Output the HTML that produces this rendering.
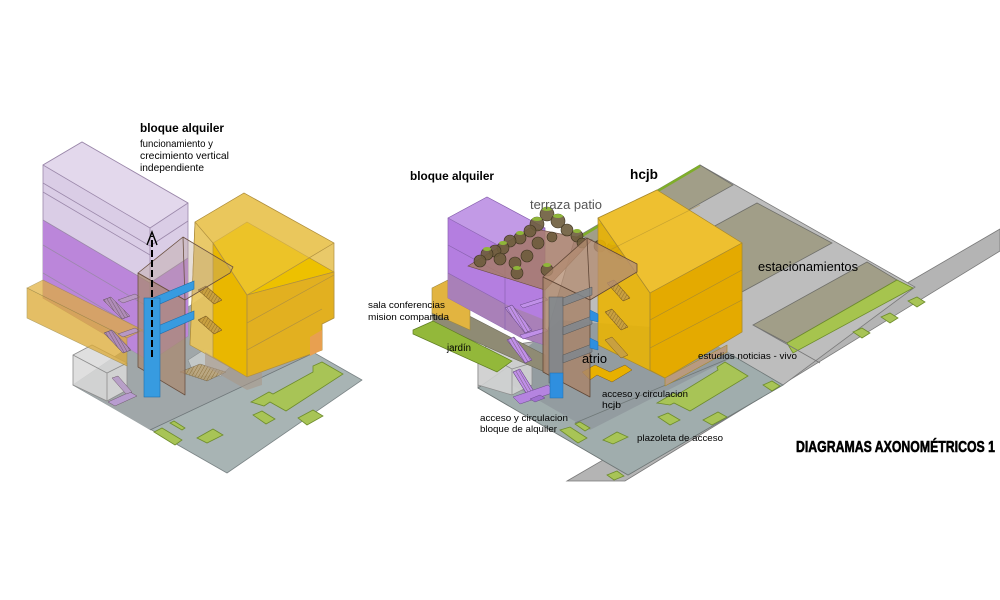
<!DOCTYPE html>
<html><head><meta charset="utf-8">
<style>
html,body{margin:0;padding:0;background:#fff;width:1000px;height:600px;overflow:hidden}
svg{display:block}
text{font-family:"Liberation Sans",Arial,sans-serif;fill:#000}
</style></head>
<body>
<svg width="1000" height="600" viewBox="0 0 1000 600" xmlns="http://www.w3.org/2000/svg">
<defs>
<pattern id="st" width="3" height="3" patternUnits="userSpaceOnUse" patternTransform="rotate(-30)">
<rect width="3" height="3" fill="none"/><path d="M0,0 L0,3" stroke="#5a4a50" stroke-width="0.7"/></pattern>
<pattern id="sty" width="3" height="3" patternUnits="userSpaceOnUse" patternTransform="rotate(30)">
<path d="M0,0 L0,3" stroke="#7a5a20" stroke-width="0.7"/></pattern>
</defs>
<rect width="1000" height="600" fill="#fff"/>

<!-- ================= LEFT DIAGRAM ================= -->
<g stroke="#7b8486" stroke-width="0.8" stroke-linejoin="round">
  <polygon points="73,385 209,293 362,380 227,473" fill="#a8b4b4"/>
  <polygon points="73,385 209,293 314,353 150,430" fill="#a0a7a9" stroke="none"/>
  <line x1="150" y1="430" x2="322" y2="349" stroke="#6f777a"/>
</g>
<g fill="#a8c456" stroke="#6e8c2c" stroke-width="0.8">
  <polygon points="251,402 269,392 273,394 313,372 313,366 322,362 343,374 286,411 270,402 264,406"/>
  <polygon points="253,415 262,411 275,419 266,424"/>
  <polygon points="298,418 313,410 323,416 307,425"/>
  <polygon points="197,438 213,429 223,435 207,443"/>
  <polygon points="154,432 162,428 182,440 175,445"/>
  <polygon points="170,423 174,421 185,428 182,430"/>
</g>
<!-- light hex area in atrio -->
<polygon points="188,360 205,349 226,351 235,362 221,376 195,376" fill="#c3c8c8" stroke="#8a8f90" stroke-width="0.6"/>
<polygon points="180,372 200,364 226,372 207,381" fill="#b8a070" opacity="0.8" stroke="#6a5a40" stroke-width="0.5"/>
<polygon points="180,372 200,364 226,372 207,381" fill="url(#sty)"/>
<!-- gray box left -->
<g stroke="#8d8d8d" stroke-width="0.8" fill="#d9d9d9" fill-opacity="0.85">
  <polygon points="73,355 92,345 127,363 127,390 107,401 73,385"/>
  <polyline points="73,355 107,373 127,363" fill="none"/>
  <line x1="107" y1="373" x2="107" y2="401"/>
</g>
<!-- purple block -->
<g stroke="#9b88aa" stroke-width="0.8" stroke-linejoin="round">
  <polygon points="43,165 82,142 188,203 188,336 150,361 43,298" fill="#dacde6"/>
  <polygon points="43,165 82,142 188,203 150,228" fill="#e3d8ec"/>
  <polygon points="43,220 150,283 188,258 188,336 150,361 43,298" fill="#bb86da" stroke="none"/>
  <line x1="150" y1="228" x2="150" y2="361"/>
  <line x1="43" y1="183" x2="150" y2="246"/>
  <line x1="43" y1="192" x2="150" y2="255"/>
  <line x1="43" y1="220" x2="150" y2="283"/>
  <line x1="43" y1="245" x2="150" y2="308"/>
  <line x1="43" y1="273" x2="150" y2="336"/>
  <line x1="150" y1="246" x2="188" y2="221"/>
  <line x1="150" y1="283" x2="188" y2="258"/>
  <line x1="150" y1="308" x2="188" y2="283"/>
</g>
<!-- left yellow slab -->
<polygon points="27,288 43,280 143,330 127,338" fill="#e0ae38" opacity="0.7" stroke="#a08a40" stroke-width="0.6"/>
<polygon points="27,288 127,338 127,366 27,318" fill="#ddac3a" opacity="0.78" stroke="#a08a40" stroke-width="0.6"/>
<!-- stairs in purple -->
<g stroke="#6e5a6a" stroke-width="0.5">
  <polygon points="103,300 111,297 130,316 122,319" fill="#b08cb8"/>
  <polygon points="103,300 111,297 130,316 122,319" fill="url(#st)"/>
  <polygon points="104,333 112,330 131,350 123,353" fill="#b08cb8"/>
  <polygon points="104,333 112,330 131,350 123,353" fill="url(#st)"/>
  <polygon points="118,300 135,294 140,297 123,303" fill="#b898c4"/>
  <polygon points="118,334 135,328 140,331 123,337" fill="#b898c4"/>
  <polygon points="108,402 130,392 137,396 115,406" fill="#b89cd0"/>
  <polygon points="112,378 118,376 132,392 126,394" fill="#b8a0c8"/>
</g>
<!-- left yellow building -->
<g stroke="#b09040" stroke-width="0.7" stroke-linejoin="round">
  <polygon points="195,222 244,193 334,243 334,318 322,324 322,350 247,377 190,345" fill="#e7c45c" fill-opacity="0.92"/>
  <polygon points="213,243 247,222 334,272 247,295" fill="#edc100"/>
  <polygon points="213,243 247,295 247,377 213,357" fill="#e9b700"/>
  <polygon points="247,295 334,272 334,318 322,324 322,350 247,377" fill="#e2b020"/>
  <polygon points="195,222 244,193 334,243 247,295 213,243" fill="#ebc650" fill-opacity="0.5"/>
  <line x1="247" y1="295" x2="247" y2="377"/>
  <line x1="247" y1="323" x2="334" y2="275"/>
  <line x1="247" y1="350" x2="322" y2="309"/>
  <line x1="195" y1="222" x2="190" y2="345"/>
  <polygon points="310,337 322,330 322,350 310,356" fill="#e8a050" stroke="none"/>
</g>
<polygon points="205,352 247,377 262,372 262,385 247,390 205,366" fill="#a89888" opacity="0.6"/>
<!-- yellow stairs left -->
<g stroke="#7a5a20" stroke-width="0.5">
  <polygon points="198,290 206,286 222,300 214,304" fill="#c8a040"/>
  <polygon points="198,290 206,286 222,300 214,304" fill="url(#sty)"/>
  <polygon points="198,320 206,316 222,330 214,334" fill="#c8a040"/>
  <polygon points="198,320 206,316 222,330 214,334" fill="url(#sty)"/>
</g>
<!-- atrio wall left -->
<g stroke="#6a5040" stroke-width="0.8" stroke-linejoin="round">
  <polygon points="138,273 185,300 185,395 138,367" fill="#a98a72" fill-opacity="0.75"/>
  <polygon points="138,273 183,237 233,267 230,273 185,300" fill="#b8a090" fill-opacity="0.35"/>
  <line x1="183" y1="237" x2="185" y2="300"/>
</g>
<!-- blue -->
<g fill="#379be0" stroke="#1f6fae" stroke-width="0.6">
  <polygon points="153,298 194,281 194,289 153,307"/>
  <polygon points="153,328 194,311 194,319 153,337"/>
  <rect x="144" y="298" width="16" height="99"/>
</g>
<!-- dashed arrow -->
<line x1="152" y1="357" x2="152" y2="236" stroke="#000" stroke-width="2" stroke-dasharray="7,3"/>
<polyline points="147,245 152,232 157,245" fill="none" stroke="#000" stroke-width="1.4"/>

<!-- ================= RIGHT DIAGRAM ================= -->
<polygon points="567,481 1000,229 1000,251 625,481" fill="#b4b4b4" stroke="#7a7a7a" stroke-width="0.8"/>
<polygon points="478,388 478,350 545,340 575,238 700,165 915,287 783,385 628,475" fill="#bdbdbd" stroke="#7a7a7a" stroke-width="0.8"/>
<g fill="#a19e88" stroke="#6f6f6a" stroke-width="0.8">
  <polygon points="582,236 700,165 733,185 615,251"/>
  <polygon points="665,253 757,203 832,243 740,293"/>
  <polygon points="753,325 867,262 897,280 787,343"/>
</g>
<line x1="575" y1="240" x2="700" y2="166" stroke="#7fae2a" stroke-width="2.5"/>
<polygon points="897,280 913,288 793,353 787,343" fill="#a6c44e" stroke="#6e8c2c" stroke-width="0.8"/>
<line x1="753" y1="325" x2="820" y2="363" stroke="#777" stroke-width="0.8"/>
<!-- plaza -->
<polygon points="478,388 628,475 783,385 735,357 660,330 560,330" fill="#a0adad" stroke="#6f7878" stroke-width="0.8"/>
<polygon points="512,385 590,430 735,356 690,330 560,320 512,360" fill="#939ca0"/>
<line x1="575" y1="423" x2="735" y2="356" stroke="#6f7878" stroke-width="0.8"/>
<g fill="#a8c456" stroke="#6e8c2c" stroke-width="0.8">
  <polygon points="657,403 674,393 677,395 718,370 717,367 725,362 748,376 690,411 674,403 670,405"/>
  <polygon points="658,417 668,413 680,420 670,425"/>
  <polygon points="703,420 718,412 727,417 712,425"/>
  <polygon points="603,440 617,432 628,437 613,444"/>
  <polygon points="560,430 570,427 587,438 578,443"/>
  <polygon points="575,424 580,422 590,428 585,431"/>
  <polygon points="763,385 772,381 780,386 772,391"/>
  <polygon points="607,475 617,471 624,476 614,480"/>
  <polygon points="853,332 862,328 870,333 862,338"/>
  <polygon points="881,317 890,313 898,318 890,323"/>
  <polygon points="908,301 917,297 925,302 917,307"/>
</g>
<!-- box right -->
<g stroke="#8d8d8d" stroke-width="0.8" fill="#d6d6d6" fill-opacity="0.85">
  <polygon points="478,350 490,345 532,363 532,385 512,395 478,385"/>
  <polyline points="478,350 512,369 532,363" fill="none"/>
  <line x1="512" y1="369" x2="512" y2="395"/>
</g>
<!-- olive and yellow slab and jardin -->
<polygon points="432,313 448,305 545,355 545,372 510,357 433,323" fill="#8f8b74" stroke="#6a6858" stroke-width="0.6"/>
<polygon points="432,288 448,280 470,292 470,330 432,313" fill="#e2b440" stroke="#a08a40" stroke-width="0.6"/>
<polygon points="413,330 433,321 512,361 497,372 413,334" fill="#93b83a" stroke="#5f7d22" stroke-width="0.7"/>
<!-- purple block right -->
<g stroke="#8a64b0" stroke-width="0.7" stroke-linejoin="round">
  <polygon points="448,218 487,197 545,228 545,345 520,337 448,298" fill="#b47ee0"/>
  <polygon points="448,218 487,197 545,228 505,249" fill="#c29ae6"/>
  <polygon points="448,273 505,304 545,320 545,345 520,337 448,298" fill="#a980b8" stroke="none"/>
  <line x1="505" y1="249" x2="505" y2="330"/>
  <line x1="448" y1="245" x2="505" y2="276"/>
  <line x1="448" y1="273" x2="505" y2="304"/>
</g>
<!-- purple stairs -->
<g stroke="#6a4a8a" stroke-width="0.5">
  <polygon points="505,308 512,305 532,330 525,333" fill="#c090e8"/>
  <polygon points="505,308 512,305 532,330 525,333" fill="url(#st)"/>
  <polygon points="520,305 545,297 548,300 523,308" fill="#c090e8"/>
  <polygon points="507,340 514,337 532,360 525,363" fill="#c090e8"/>
  <polygon points="507,340 514,337 532,360 525,363" fill="url(#st)"/>
  <polygon points="520,335 545,328 548,331 523,339" fill="#c090e8"/>
  <polygon points="513,372 520,369 535,393 528,396" fill="#c090e8"/>
  <polygon points="513,372 520,369 535,393 528,396" fill="url(#st)"/>
  <polygon points="513,397 548,385 555,392 520,404" fill="#b584e0"/>
  <polygon points="530,399 540,395 545,398 535,402" fill="#a070d0"/>
</g>
<!-- terrace -->
<polygon points="468,266 530,228 592,240 545,290" fill="#a67b68" fill-opacity="0.85" stroke="#6a4e40" stroke-width="0.6"/>
<!-- trees -->
<g fill="#6d5c3c" fill-opacity="0.9" stroke="#3a301e" stroke-width="0.6">
  <circle cx="547" cy="214" r="7"/><circle cx="558" cy="221" r="7"/><circle cx="567" cy="230" r="6"/>
  <circle cx="577" cy="236" r="6"/><circle cx="537" cy="224" r="7"/><circle cx="530" cy="231" r="6"/>
  <circle cx="520" cy="238" r="6"/><circle cx="510" cy="241" r="6"/><circle cx="503" cy="248" r="6"/>
  <circle cx="495" cy="251" r="6"/><circle cx="487" cy="254" r="6"/><circle cx="480" cy="261" r="6"/>
  <circle cx="500" cy="259" r="6"/><circle cx="515" cy="263" r="6"/><circle cx="517" cy="273" r="6"/>
  <circle cx="527" cy="256" r="6"/><circle cx="538" cy="243" r="6"/><circle cx="552" cy="237" r="5"/>
  <circle cx="547" cy="270" r="6"/><circle cx="582" cy="243" r="5"/><circle cx="600" cy="246" r="6"/>
  <circle cx="613" cy="248" r="6"/><circle cx="621" cy="254" r="5"/>
</g>
<g fill="#8fb63a">
  <ellipse cx="547" cy="209" rx="5" ry="2"/><ellipse cx="558" cy="216" rx="5" ry="2"/>
  <ellipse cx="537" cy="219" rx="5" ry="2"/><ellipse cx="520" cy="233" rx="4" ry="2"/>
  <ellipse cx="503" cy="243" rx="4" ry="2"/><ellipse cx="487" cy="249" rx="4" ry="2"/>
  <ellipse cx="577" cy="231" rx="4" ry="2"/><ellipse cx="613" cy="243" rx="4" ry="2"/>
  <ellipse cx="517" cy="268" rx="4" ry="2"/><ellipse cx="547" cy="265" rx="4" ry="2"/>
</g>
<!-- yellow building right -->
<g stroke="#a88a30" stroke-width="0.7" stroke-linejoin="round">
  <polygon points="598,218 657,190 742,243 742,332 665,378 598,345" fill="#eab400" fill-opacity="0.88"/>
  <polygon points="598,218 657,190 742,243 650,293" fill="#eec030"/>
  <polygon points="650,293 742,243 742,332 665,378 650,370" fill="#e4aa00"/>
  <line x1="650" y1="293" x2="650" y2="370"/>
  <line x1="650" y1="320" x2="742" y2="270"/>
  <line x1="650" y1="348" x2="742" y2="300"/>
  <line x1="610" y1="250" x2="700" y2="205" stroke-opacity="0.5"/>
  <line x1="598" y1="218" x2="650" y2="293" stroke-opacity="0.6"/>
  <polygon points="665,378 727,345 727,352 665,386" fill="#b89a80"/>
</g>
<!-- yellow stairs right -->
<g stroke="#7a5a20" stroke-width="0.5">
  <polygon points="607,283 614,280 630,298 623,301" fill="#c8a040"/>
  <polygon points="607,283 614,280 630,298 623,301" fill="url(#sty)"/>
  <polygon points="605,312 612,309 628,327 621,330" fill="#c8a040"/>
  <polygon points="605,312 612,309 628,327 621,330" fill="url(#sty)"/>
  <polygon points="605,340 612,337 628,355 621,358" fill="#c8a040"/>
  <polygon points="582,372 595,365 610,372 625,365 632,370 612,382 597,375 590,380" fill="#e8b000"/>
</g>
<!-- atrio right -->
<g stroke="#5f4636" stroke-width="0.8" stroke-linejoin="round">
  <polygon points="543,277 590,300 590,397 543,372" fill="#a8856b" fill-opacity="0.85"/>
  <polygon points="543,277 587,238 637,264 637,272 590,300" fill="#b48d72" fill-opacity="0.78"/>
  <line x1="587" y1="238" x2="590" y2="300"/>
</g>
<g fill="#7f878e" fill-opacity="0.85" stroke="#555" stroke-width="0.5">
  <rect x="549" y="297" width="14" height="86"/>
  <polygon points="563,298 592,287 592,295 563,306"/>
  <polygon points="563,327 592,316 592,324 563,335"/>
  <polygon points="563,355 592,344 592,352 563,363"/>
</g>
<g fill="#2f8fdf" stroke="#1f6fae" stroke-width="0.5">
  <rect x="550" y="373" width="13" height="25"/>
  <polygon points="590,310 598,314 598,322 590,320"/>
  <polygon points="590,338 598,342 598,350 590,348"/>
</g>

<!-- ================= TEXT ================= -->
<text x="140" y="132" font-size="12" font-weight="bold" textLength="84" lengthAdjust="spacingAndGlyphs">bloque alquiler</text>
<text x="140" y="147" font-size="10.5" textLength="73" lengthAdjust="spacingAndGlyphs">funcionamiento y</text>
<text x="140" y="159" font-size="10.5" textLength="89" lengthAdjust="spacingAndGlyphs">crecimiento vertical</text>
<text x="140" y="171" font-size="10.5" textLength="64" lengthAdjust="spacingAndGlyphs">independiente</text>

<text x="410" y="180" font-size="12" font-weight="bold" textLength="84" lengthAdjust="spacingAndGlyphs">bloque alquiler</text>
<text x="630" y="179" font-size="14" font-weight="bold" textLength="28" lengthAdjust="spacingAndGlyphs">hcjb</text>
<text x="530" y="209" font-size="13" style="fill:#555" textLength="72" lengthAdjust="spacingAndGlyphs">terraza patio</text>
<text x="368" y="308" font-size="9.5" textLength="77" lengthAdjust="spacingAndGlyphs">sala conferencias</text>
<text x="368" y="320" font-size="9.5" textLength="81" lengthAdjust="spacingAndGlyphs">mision compartida</text>
<text x="447" y="351" font-size="10" textLength="24" lengthAdjust="spacingAndGlyphs">jardín</text>
<text x="582" y="363" font-size="13" textLength="25" lengthAdjust="spacingAndGlyphs">atrio</text>
<text x="602" y="397" font-size="9.5" textLength="86" lengthAdjust="spacingAndGlyphs">acceso y circulacion</text>
<text x="602" y="408" font-size="9.5" textLength="19" lengthAdjust="spacingAndGlyphs">hcjb</text>
<text x="480" y="421" font-size="9.5" textLength="88" lengthAdjust="spacingAndGlyphs">acceso y circulacion</text>
<text x="480" y="432" font-size="9.5" textLength="77" lengthAdjust="spacingAndGlyphs">bloque de alquiler</text>
<text x="637" y="441" font-size="9.5" textLength="86" lengthAdjust="spacingAndGlyphs">plazoleta de acceso</text>
<text x="698" y="359" font-size="9.5" textLength="99" lengthAdjust="spacingAndGlyphs">estudios noticias - vivo</text>
<text x="758" y="271" font-size="13" textLength="100" lengthAdjust="spacingAndGlyphs">estacionamientos</text>
<text x="796" y="452" font-size="16" font-weight="bold" stroke="#000" stroke-width="0.6" textLength="199" lengthAdjust="spacingAndGlyphs">DIAGRAMAS AXONOMÉTRICOS 1</text>
</svg>
</body></html>
